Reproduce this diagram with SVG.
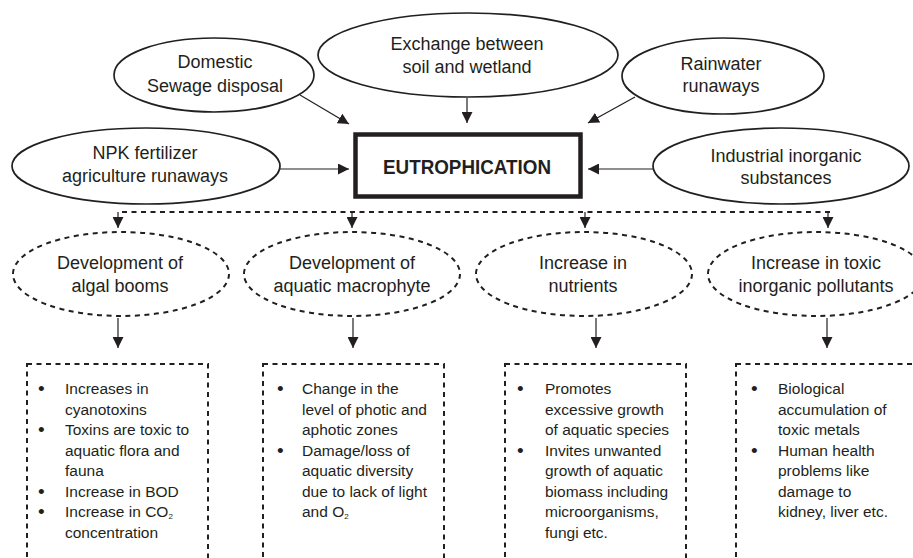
<svg xmlns="http://www.w3.org/2000/svg" width="913" height="558" viewBox="0 0 913 558">
<defs>
<marker id="ah" markerUnits="userSpaceOnUse" markerWidth="11" markerHeight="11" viewBox="0 0 11 11" refX="11" refY="5.5" orient="auto">
<path d="M0,0 L11,5.5 L0,11 z" fill="#231f20"/>
</marker>
<style>
.src{fill:#fff;stroke:#231f20;stroke-width:1.7}
.eff{fill:#fff;stroke:#231f20;stroke-width:2;stroke-dasharray:5 4.5}
.box{fill:none;stroke:#231f20;stroke-width:2;stroke-dasharray:5 4.5}
.con{fill:none;stroke:#231f20;stroke-width:1.2;marker-end:url(#ah)}
.dash{fill:none;stroke:#231f20;stroke-width:2;stroke-dasharray:5 4.5}
text{font-family:"Liberation Sans",Arial,sans-serif;fill:#231f20}
.t{font-size:18px;text-anchor:middle}
.b{font-size:15.5px}
.d{font-size:19px}
.main{font-size:21px;font-weight:bold;text-anchor:middle}
</style>
</defs>
<rect width="913" height="558" fill="#fff"/>

<g id="connectors">
<line class="con" x1="300" y1="95" x2="349" y2="124"/>
<line class="con" x1="467" y1="98" x2="467" y2="123"/>
<line class="con" x1="635" y1="97" x2="588" y2="123"/>
<line class="con" x1="280" y1="169" x2="349" y2="169"/>
<line class="con" x1="653" y1="169" x2="588" y2="169"/>
<line class="dash" x1="122" y1="212" x2="830" y2="212"/>
<line class="con" x1="118" y1="212" x2="118" y2="228"/>
<line class="con" x1="352" y1="212" x2="352" y2="228"/>
<line class="con" x1="585" y1="212" x2="585" y2="228"/>
<line class="con" x1="828" y1="212" x2="828" y2="228"/>
<line class="con" x1="118" y1="318" x2="118" y2="348"/>
<line class="con" x1="353" y1="318" x2="353" y2="348"/>
<line class="con" x1="596" y1="318" x2="596" y2="348"/>
<line class="con" x1="827" y1="318" x2="827" y2="348"/>
</g>

<g id="eutrophication">
<rect x="355.5" y="134.5" width="225" height="62" fill="#fff" stroke="#231f20" stroke-width="4.5"/>
<text class="main" x="467" y="174" textLength="168" lengthAdjust="spacingAndGlyphs">EUTROPHICATION</text>
</g>

<g id="domestic">
<ellipse class="src" cx="214" cy="75" rx="100" ry="37"/>
<text class="t" x="215" y="68">Domestic</text>
<text class="t" x="215" y="92">Sewage disposal</text>
</g>
<g id="exchange">
<ellipse class="src" cx="468" cy="55" rx="150" ry="42"/>
<text class="t" x="467" y="50">Exchange between</text>
<text class="t" x="467" y="73">soil and wetland</text>
</g>
<g id="rainwater">
<ellipse class="src" cx="723" cy="76" rx="101" ry="38"/>
<text class="t" x="721" y="70">Rainwater</text>
<text class="t" x="721" y="92">runaways</text>
</g>
<g id="npk">
<ellipse class="src" cx="146" cy="166" rx="134" ry="38"/>
<text class="t" x="145" y="159">NPK fertilizer</text>
<text class="t" x="145" y="182">agriculture runaways</text>
</g>
<g id="industrial">
<ellipse class="src" cx="781" cy="166" rx="128" ry="38"/>
<text class="t" x="786" y="162">Industrial inorganic</text>
<text class="t" x="786" y="184">substances</text>
</g>

<g id="algal">
<ellipse class="eff" cx="121" cy="274" rx="108" ry="42"/>
<text class="t" x="120" y="269">Development of</text>
<text class="t" x="120" y="292">algal booms</text>
</g>
<g id="macrophyte">
<ellipse class="eff" cx="352" cy="274" rx="108" ry="42"/>
<text class="t" x="352" y="269">Development of</text>
<text class="t" x="352" y="292">aquatic macrophyte</text>
</g>
<g id="nutrients">
<ellipse class="eff" cx="584" cy="274" rx="108" ry="42"/>
<text class="t" x="583" y="269">Increase in</text>
<text class="t" x="583" y="292">nutrients</text>
</g>
<g id="toxic">
<ellipse class="eff" cx="816" cy="274" rx="108" ry="42"/>
<text class="t" x="816" y="269">Increase in toxic</text>
<text class="t" x="816" y="292">inorganic pollutants</text>
</g>

<g id="box-algal">
<rect class="box" x="27" y="364" width="181" height="210"/>
<text class="d" x="38" y="395">•</text><text class="b" x="65" y="394">Increases in</text>
<text class="b" x="65" y="414.5">cyanotoxins</text>
<text class="d" x="38" y="436">•</text><text class="b" x="65" y="435">Toxins are toxic to</text>
<text class="b" x="65" y="455.5">aquatic flora and</text>
<text class="b" x="65" y="476">fauna</text>
<text class="d" x="38" y="497.5">•</text><text class="b" x="65" y="496.5">Increase in BOD</text>
<text class="d" x="38" y="518">•</text><text class="b" x="65" y="517">Increase in CO<tspan font-size="8" dy="2">2</tspan></text>
<text class="b" x="65" y="537.5">concentration</text>
</g>
<g id="box-macrophyte">
<rect class="box" x="263" y="364" width="181" height="210"/>
<text class="d" x="277" y="395">•</text><text class="b" x="302" y="394">Change in the</text>
<text class="b" x="302" y="414.5">level of photic and</text>
<text class="b" x="302" y="435">aphotic zones</text>
<text class="d" x="277" y="456.5">•</text><text class="b" x="302" y="455.5">Damage/loss of</text>
<text class="b" x="302" y="476">aquatic diversity</text>
<text class="b" x="302" y="496.5">due to lack of light</text>
<text class="b" x="302" y="517">and O<tspan font-size="8" dy="2">2</tspan></text>
</g>
<g id="box-nutrients">
<rect class="box" x="505" y="364" width="181" height="210"/>
<text class="d" x="517" y="395">•</text><text class="b" x="545" y="394">Promotes</text>
<text class="b" x="545" y="414.5">excessive growth</text>
<text class="b" x="545" y="435">of aquatic species</text>
<text class="d" x="517" y="456.5">•</text><text class="b" x="545" y="455.5">Invites unwanted</text>
<text class="b" x="545" y="476">growth of aquatic</text>
<text class="b" x="545" y="496.5">biomass including</text>
<text class="b" x="545" y="517">microorganisms,</text>
<text class="b" x="545" y="537.5">fungi etc.</text>
</g>
<g id="box-toxic">
<rect class="box" x="736" y="364" width="200" height="210"/>
<text class="d" x="751" y="395">•</text><text class="b" x="778" y="394">Biological</text>
<text class="b" x="778" y="414.5">accumulation of</text>
<text class="b" x="778" y="435">toxic metals</text>
<text class="d" x="751" y="456.5">•</text><text class="b" x="778" y="455.5">Human health</text>
<text class="b" x="778" y="476">problems like</text>
<text class="b" x="778" y="496.5">damage to</text>
<text class="b" x="778" y="517">kidney, liver etc.</text>
</g>
</svg>
